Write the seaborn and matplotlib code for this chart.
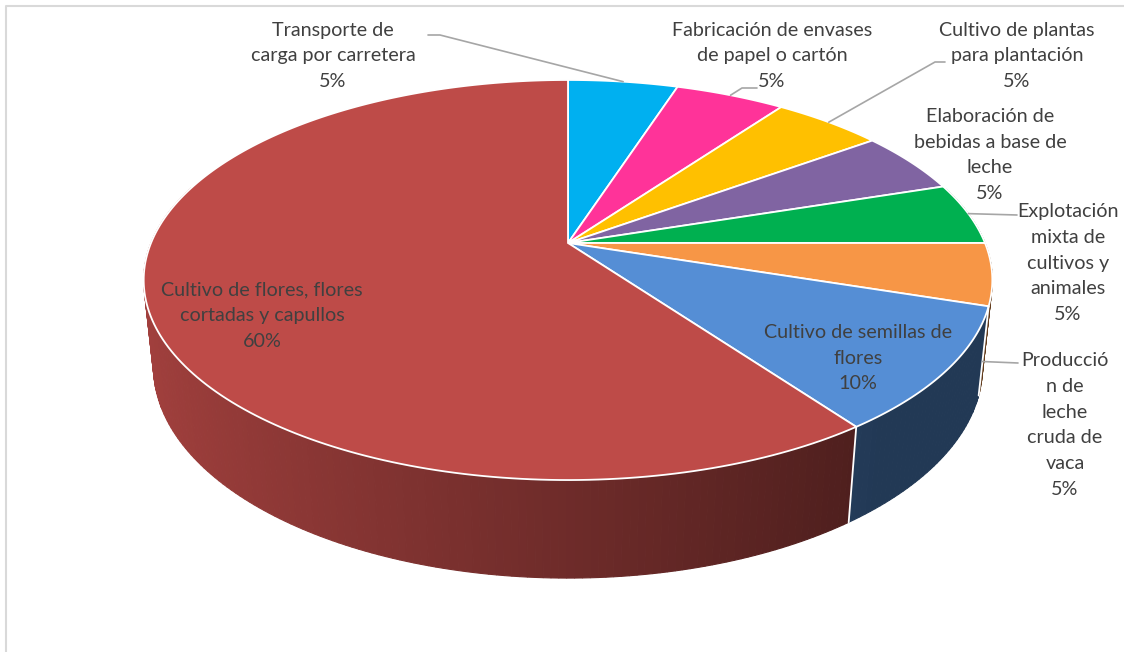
import numpy as np
import matplotlib.pyplot as plt
import seaborn as sns
from matplotlib.colors import to_rgb

# data
labels = [
    "Transporte de\ncarga por carretera",
    "Fabricación de envases\nde papel o cartón",
    "Cultivo de plantas\npara plantación",
    "Elaboración de\nbebidas a base de\nleche",
    "Explotación\nmixta de\ncultivos y\nanimales",
    "Producció\nn de\nleche\ncruda de\nvaca",
    "Cultivo de semillas de\nflores",
    "Cultivo de flores, flores\ncortadas y capullos",
]
shares = [5, 5, 5, 5, 5, 5, 10, 60]
colors = ["#00b0f0", "#ff3399", "#ffc000", "#8064a2",
          "#00b050", "#f79646", "#558ed5", "#be4b48"]

# label layout (pixel positions of text blocks and leader elbows)
label_xy = [(333, 56), (772, 56), (1017, 56), (990, 155),
            (1068, 263), (1065, 425), (858, 358), (262, 316)]
leader_start = [[(428, 35), (440, 35)], [(757, 88), (742, 88)],
                [(945, 62), (935, 62)], None, [(1017, 215)],
                [(1018, 363)], None, None]

sns.set_theme(style="white")
plt.rcParams['font.family'] = ['Lato', 'DejaVu Sans']

# simple perspective camera for the 3d disc
CX, CY = 568, 243
ALPHA = np.radians(27.6)
DIST = 4.79
FOCAL = 1997.4
DEPTH = 0.237


def project(theta, y=0.0, r=1.0):
    X = r * np.sin(theta)
    Z = r * np.cos(theta)
    yc = y * np.cos(ALPHA) + Z * np.sin(ALPHA)
    zc = DIST + Z * np.cos(ALPHA) - y * np.sin(ALPHA)
    return CX + FOCAL * X / zc, CY - FOCAL * yc / zc


fig = plt.figure(figsize=(11.24, 6.52), dpi=100)
ax = fig.add_axes([0, 0, 1, 1])
ax.set_xlim(0, 1124)
ax.set_ylim(652, 0)
ax.axis('off')

# chart border
ax.plot([6, 6, 1124], [652, 6, 6], color='#d9d9d9', lw=1.5)

edges = 2 * np.pi * np.concatenate([[0], np.cumsum(shares)]) / sum(shares)

# side walls, far pieces first
pieces = []
for i, (t0, t1) in enumerate(zip(edges[:-1], edges[1:])):
    n = max(6, int(400 * (t1 - t0) / (2 * np.pi)))
    ts = np.linspace(t0, t1, n + 1)
    for a, b in zip(ts[:-1], ts[1:]):
        m = (a + b) / 2
        if np.cos(m) > 0.3:
            continue
        pieces.append((np.cos(m), i, a, b, m))
pieces.sort(key=lambda p: -p[0])
for _, i, a, b, m in pieces:
    shade = np.clip(0.58 - 0.28 * np.sin(m), 0.4, 0.9)
    col = tuple(c * shade for c in to_rgb(colors[i]))
    x0, y0 = project(a)
    x1, y1 = project(b)
    x2, y2 = project(b, -DEPTH)
    x3, y3 = project(a, -DEPTH)
    ax.fill([x0, x1, x2, x3], [y0, y1, y2, y3], color=col, lw=0.8)

for t in edges[:-1]:
    if np.cos(t) < 0:
        xa, ya = project(t)
        xb, yb = project(t, -DEPTH)
        ax.plot([xa, xb], [ya, yb], color='white', lw=1.3)

# top faces
for i, (t0, t1) in enumerate(zip(edges[:-1], edges[1:])):
    ts = np.linspace(t0, t1, 200)
    xs, ys = project(ts)
    ax.fill(np.r_[CX, xs], np.r_[CY, ys], facecolor=colors[i],
            edgecolor='white', lw=1.3)

# labels and leader lines
for i, lab in enumerate(labels):
    x, y = label_xy[i]
    ax.text(x, y, f"{lab}\n{shares[i]}%", ha='center', va='center',
            fontsize=14.2, color='#404040', linespacing=1.62)
    if leader_start[i] is not None:
        mid = (edges[i] + edges[i + 1]) / 2
        end = project(mid, 0.0 if np.cos(mid) >= 0 else -DEPTH)
        pts = leader_start[i] + [end]
        ax.plot([p[0] for p in pts], [p[1] for p in pts],
                color='#a6a6a6', lw=1.2)

fig.savefig("out.png", dpi=100)
